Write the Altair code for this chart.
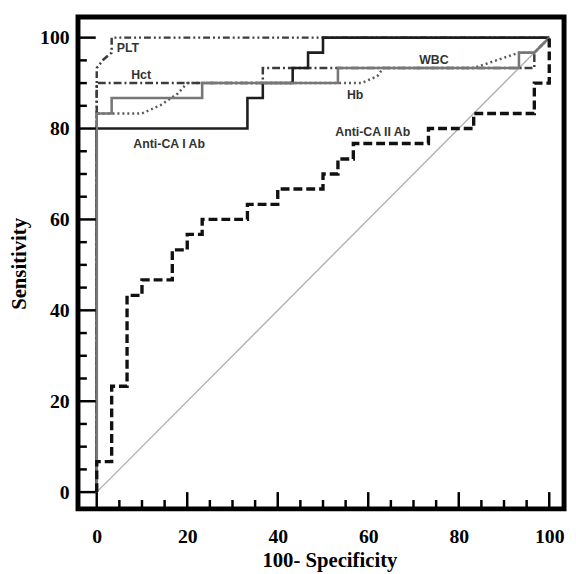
import altair as alt
import pandas as pd

# ---------------- data ----------------
diag_x = [0, 100]
diag_y = [0, 100]

anti1_x = [0, 0, 33.3, 33.3, 36.7, 36.7, 43.3, 43.3, 46.7, 46.7, 50, 50, 100]
anti1_y = [0, 80, 80, 86.7, 86.7, 90, 90, 93.3, 93.3, 96.7, 96.7, 100, 100]

anti2_x = [0, 0, 3.3, 3.3, 6.7, 6.7, 10, 10, 16.7, 16.7, 20, 20, 23.3, 23.3, 33.3, 33.3,
           40, 40, 50, 50, 53.3, 53.3, 56.7, 56.7, 73.3, 73.3, 83.3, 83.3, 96.7, 96.7, 100, 100]
anti2_y = [0, 6.7, 6.7, 23.3, 23.3, 43.3, 43.3, 46.7, 46.7, 53.3, 53.3, 56.7, 56.7, 60, 60, 63.3,
           63.3, 66.7, 66.7, 70, 70, 73.3, 73.3, 76.7, 76.7, 80, 80, 83.3, 83.3, 90, 90, 100]

wbc_x = [0, 0, 3.3, 3.3, 23.3, 23.3, 53.3, 53.3, 93.3, 93.3, 96.7, 100]
wbc_y = [0, 83.3, 83.3, 86.7, 86.7, 90, 90, 93.3, 93.3, 96.7, 96.7, 100]

hct_x = [0, 0, 36.7, 36.7, 96.7, 96.7, 100]
hct_y = [0, 90, 90, 93.3, 93.3, 96.7, 100]

plt_x = [0, 0, 1.5, 3.3, 3.3, 100]
plt_y = [0, 93.3, 95.2, 96.7, 100, 100]

hb_x = [0, 0, 3.3, 10, 14.2, 17.9, 20, 53.3, 58.5, 62, 63.3, 83.3, 88.3, 93.3, 96.7, 100]
hb_y = [0, 83.3, 83.3, 83.3, 85.2, 87.7, 90, 90, 90, 91.5, 93.3, 93.3, 95, 96.7, 96.7, 100]

label_text = ["PLT", "Hct", "Anti-CA I Ab", "WBC", "Hb", "Anti-CA II Ab"]
label_x = [6.9, 9.8, 16.0, 74.5, 57.1, 61.0]
label_y = [97.8, 91.7, 76.6, 95.1, 87.3, 79.2]

major_ticks = [0, 20, 40, 60, 80, 100]
minor_ticks = [5, 10, 15, 25, 30, 35, 45, 50, 55, 65, 70, 75, 85, 90, 95]

# ---------------- layout ----------------
W, H = 493, 499
X_DOMAIN = [-4.14, 103.27]
Y_DOMAIN = [-3.69, 104.56]

xscale = alt.Scale(domain=X_DOMAIN, nice=False, zero=False)
yscale = alt.Scale(domain=Y_DOMAIN, nice=False, zero=False)

SERIF = "Liberation Serif"
SANS = "Liberation Sans"

x_axis = alt.Axis(values=major_ticks, ticks=False, domain=False, grid=False,
                  labelFont=SERIF, labelFontSize=20, labelFontWeight="bold", labelColor="black",
                  labelPadding=18, labelFlush=False,
                  title="100- Specificity", titleFont=SERIF, titleFontSize=21,
                  titleFontWeight="bold", titleColor="black",
                  titleX=255, titleY=52, titleBaseline="middle", titleAlign="center")
y_axis = alt.Axis(values=major_ticks, ticks=False, domain=False, grid=False,
                  labelFont=SERIF, labelFontSize=20, labelFontWeight="bold", labelColor="black",
                  labelPadding=9, labelFlush=False,
                  title="Sensitivity", titleFont=SERIF, titleFontSize=21,
                  titleFontWeight="bold", titleColor="black",
                  titleX=-59, titleY=250, titleAngle=270, titleBaseline="middle", titleAlign="center")


def curve(xs, ys, color, width, dash=None):
    df = pd.DataFrame({"x": xs, "y": ys, "o": list(range(len(xs)))})
    kw = dict(color=color, strokeWidth=width, strokeJoin="miter", strokeCap="butt")
    if dash:
        kw["strokeDash"] = dash
    return alt.Chart(df).mark_line(**kw).encode(
        x=alt.X("x:Q", scale=xscale, axis=x_axis),
        y=alt.Y("y:Q", scale=yscale, axis=y_axis),
        order="o:Q",
    )


diag = curve(diag_x, diag_y, "#b0b0b0", 1.4)
hb = curve(hb_x, hb_y, "#5a5a5a", 2.5, [2, 3])
hct = curve(hct_x, hct_y, "#3c3c3c", 2.5, [8, 3, 2, 3])
pltc = curve(plt_x, plt_y, "#3c3c3c", 2.5, [7, 3, 2, 3, 2, 3])
anti1 = curve(anti1_x, anti1_y, "#1e1e1e", 2.6)
wbc = curve(wbc_x, wbc_y, "#777777", 2.6)
anti2 = curve(anti2_x, anti2_y, "#111111", 3.4, [9, 4])

labels_df = pd.DataFrame({"t": label_text, "x": label_x, "y": label_y})
labels = alt.Chart(labels_df).mark_text(
    font=SANS, fontSize=12.5, fontWeight="bold", color="#333333", align="center", baseline="middle"
).encode(
    x=alt.X("x:Q", scale=xscale, axis=x_axis),
    y=alt.Y("y:Q", scale=yscale, axis=y_axis),
    text="t:N",
)

maj_df = pd.DataFrame({"v": major_ticks})
min_df = pd.DataFrame({"v": minor_ticks})

left_major = alt.Chart(maj_df).mark_rule(color="black", strokeWidth=2.5).encode(
    y=alt.Y("v:Q", scale=yscale, axis=y_axis), x=alt.value(0), x2=alt.value(18))
left_minor = alt.Chart(min_df).mark_rule(color="black", strokeWidth=2.5).encode(
    y=alt.Y("v:Q", scale=yscale, axis=y_axis), x=alt.value(0), x2=alt.value(9))
bottom_major = alt.Chart(maj_df).mark_rule(color="black", strokeWidth=2.5).encode(
    x=alt.X("v:Q", scale=xscale, axis=x_axis), y=alt.value(H - 17), y2=alt.value(H))
bottom_minor = alt.Chart(min_df).mark_rule(color="black", strokeWidth=2.5).encode(
    x=alt.X("v:Q", scale=xscale, axis=x_axis), y=alt.value(H - 9), y2=alt.value(H))

chart = alt.layer(
    diag, hb, hct, pltc, anti1, wbc, anti2, labels,
    left_major, left_minor, bottom_major, bottom_minor,
).properties(
    width=W, height=H,
    autosize="none",
    padding={"left": 71, "top": 5, "right": 4, "bottom": 62},
    background="white",
).configure_view(stroke="black", strokeWidth=5)

chart.save("out.html", embed_options={"renderer": "svg", "actions": False})
